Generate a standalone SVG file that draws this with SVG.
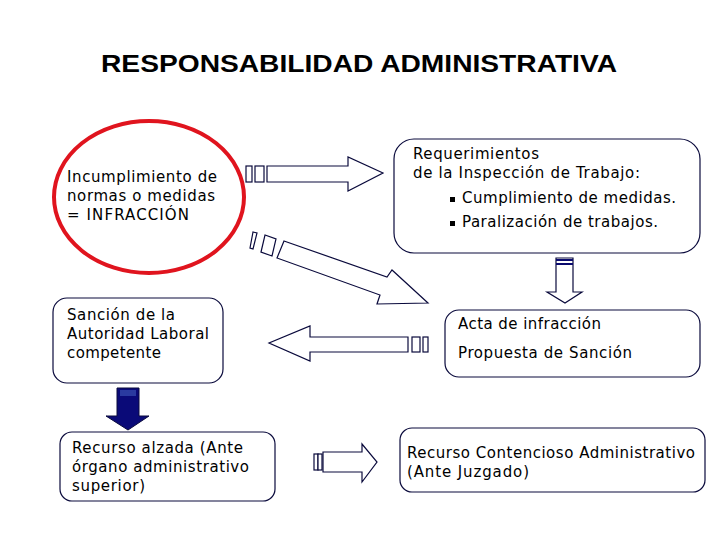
<svg xmlns="http://www.w3.org/2000/svg" width="720" height="540" viewBox="0 0 720 540">
<style>
text{font-family:"DejaVu Sans",Verdana,sans-serif;font-size:15px;fill:#000}
.box{fill:#fff;stroke:#0a0a3c;stroke-width:1.2}
.arr{fill:#fff;stroke:#0a0a3c;stroke-width:1.2}
.t{font-family:"Liberation Sans",Arial,sans-serif;font-size:23px;font-weight:bold}
</style>
<rect width="720" height="540" fill="#fff"/>
<text class="t" x="101" y="72" textLength="516" lengthAdjust="spacingAndGlyphs">RESPONSABILIDAD ADMINISTRATIVA</text>
<g id="n1">
<ellipse cx="149" cy="197" rx="95" ry="76" fill="#fff" stroke="#e0141e" stroke-width="4"/>
<text x="67" y="182" textLength="150">Incumplimiento de</text>
<text x="67" y="201" textLength="148">normas o medidas</text>
<text x="67" y="220" textLength="122">= INFRACCIÓN</text>
</g>
<g id="n2">
<rect class="box" x="394" y="139" width="306" height="114" rx="20"/>
<text x="413" y="159" textLength="126">Requerimientos</text>
<text x="413" y="178" textLength="227">de la Inspección de Trabajo:</text>
<rect x="450" y="197" width="5" height="5" fill="#000"/>
<text x="462" y="203" textLength="214">Cumplimiento de medidas.</text>
<rect x="450" y="221" width="5" height="5" fill="#000"/>
<text x="462" y="227" textLength="196">Paralización de trabajos.</text>
</g>
<g id="n3">
<rect class="box" x="445" y="310" width="255" height="67" rx="14"/>
<text x="458" y="329" textLength="143">Acta de infracción</text>
<text x="458" y="358" textLength="174">Propuesta de Sanción</text>
</g>
<g id="n4">
<rect class="box" x="53" y="298" width="170" height="85" rx="14"/>
<text x="67" y="320" textLength="108">Sanción de la</text>
<text x="67" y="339" textLength="142">Autoridad Laboral</text>
<text x="67" y="358" textLength="94">competente</text>
</g>
<g id="n5">
<rect class="box" x="60" y="432" width="215" height="69" rx="12"/>
<text x="72" y="453" textLength="171">Recurso alzada (Ante</text>
<text x="72" y="472" textLength="177">órgano administrativo</text>
<text x="72" y="491" textLength="73">superior)</text>
</g>
<g id="n6">
<rect class="box" x="400" y="428" width="305" height="64" rx="12"/>
<text x="407" y="458" textLength="288">Recurso Contencioso Administrativo</text>
<text x="407" y="477" textLength="122">(Ante Juzgado)</text>
</g>
<g id="connectors">
<rect class="arr" x="246" y="166" width="6" height="16"/>
<rect class="arr" x="255" y="166" width="9" height="16"/>
<polygon class="arr" points="267,166 348,166 348,157 383,173 348,191 348,182 267,182"/>
<polygon class="arr" points="250,248 253,232 257,233 253,249"/>
<polygon class="arr" points="261,252 265,235 276,239 272,256"/>
<polygon class="arr" points="284,241 387,277 392,270 428,303 377,304 380,295 277,258"/>
<polygon class="arr" points="556,258 573,258 573,292 582,292 565,303 547,292 556,292"/>
<line x1="556" y1="260" x2="573" y2="260" stroke="#0a0a6e" stroke-width="2"/>
<line x1="556" y1="264" x2="573" y2="264" stroke="#0a0a6e" stroke-width="2"/>
<polygon class="arr" points="408,337 310,337 310,326 269,343 310,361 310,352 408,352"/>
<rect class="arr" x="412" y="337" width="8" height="15"/>
<rect class="arr" x="423" y="337" width="5" height="15"/>
<polygon points="117,388 139,388 139,416 149,416 128,430 106,416 117,416" fill="#0a0a78" stroke="#0a0a3c"/>
<rect x="120" y="390" width="16" height="6" fill="#2a3aa0"/>
<rect class="arr" x="314" y="454" width="4" height="16"/>
<rect class="arr" x="318" y="454" width="4" height="16"/>
<polygon class="arr" points="323,452 362,452 362,444 377,462 362,482 362,472 323,472"/>
</g>
</svg>
